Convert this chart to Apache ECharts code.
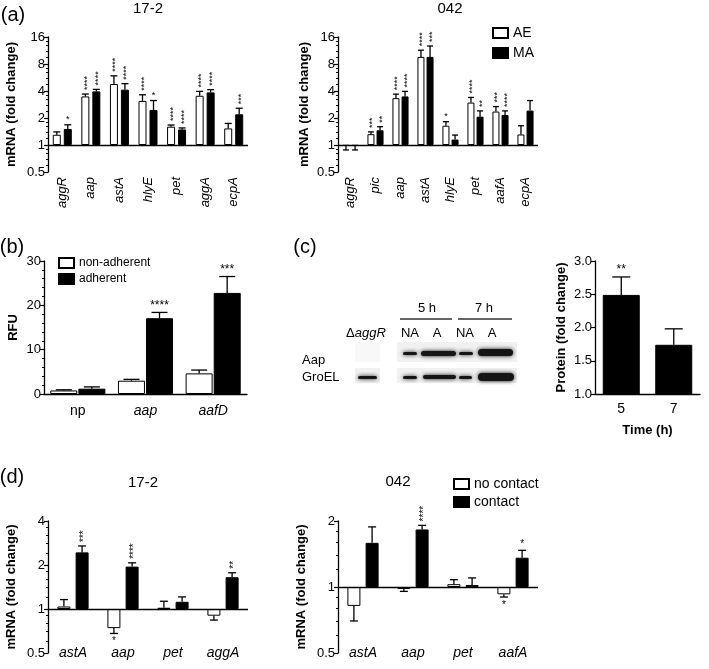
<!DOCTYPE html>
<html>
<head>
<meta charset="utf-8">
<script src="https://cdn.jsdelivr.net/npm/echarts@6/dist/echarts.min.js"></script>
<style>
  html, body { margin: 0; padding: 0; background: #fff; }
  #chart { width: 709px; height: 669px; }
</style>
</head>
<body>
<div id="chart"></div>
<script>
// (a) 17-2, AE vs MA
const genesA1 = ['aggR', 'aap', 'astA', 'hlyE', 'pet', 'aggA', 'ecpA'];
const a1AE = [1.30, 3.48, 4.78, 3.10, 1.60, 3.54, 1.53];
const a1AEErr = [1.40, 3.70, 5.90, 3.63, 1.67, 3.96, 1.74];
const a1AESig = ['', '****', '****', '****', '****', '****', ''];
const a1MA = [1.51, 3.96, 4.14, 2.46, 1.49, 3.86, 2.20];
const a1MAErr = [1.68, 4.17, 4.83, 3.13, 1.55, 4.14, 2.57];
const a1MASig = ['*', '****', '****', '*', '****', '****', '***'];

// (a) 042, AE vs MA
const genesA2 = ['aggR', 'pic', 'aap', 'astA', 'hlyE', 'pet', 'aafA', 'ecpA'];
const a2AE = [0.98, 1.32, 3.33, 9.6, 1.64, 2.97, 2.36, 1.31];
const a2AEErr = [0.88, 1.40, 3.69, 11.4, 1.82, 3.39, 2.68, 1.64];
const a2AESig = ['', '***', '****', '****', '*', '****', '***', ''];
const a2MA = [0.98, 1.46, 3.48, 9.6, 1.15, 2.07, 2.16, 2.42];
const a2MAErr = [0.88, 1.60, 3.96, 12.7, 1.29, 2.40, 2.40, 3.13];
const a2MASig = ['', '**', '****', '***', '', '**', '****', ''];

// (b) RFU
const reporters = ['np', 'aap', 'aafD'];
const nonAdh = [0.8, 3.0, 4.65];
const nonAdhErr = [0.95, 3.3, 5.4];
const nonAdhSig = ['', '', ''];
const adh = [1.2, 17.1, 22.8];
const adhErr = [1.6, 18.4, 26.5];
const adhSig = ['', '****', '***'];

// (c) protein fold change
const times = ['5', '7'];
const protein = [2.49, 1.74];
const proteinErr = [2.76, 1.98];
const proteinSig = ['**', ''];

// (d) 17-2, no contact vs contact
const genesD1 = ['astA', 'aap', 'pet', 'aggA'];
const d1No = [1.04, 0.74, 1.02, 0.90];
const d1NoErr = [1.16, 0.68, 1.13, 0.84];
const d1NoSig = ['', '*', '', ''];
const d1Yes = [2.44, 1.95, 1.12, 1.65];
const d1YesErr = [2.70, 2.07, 1.21, 1.77];
const d1YesSig = ['***', '****', '', '**'];

// (d) 042
const genesD2 = ['astA', 'aap', 'pet', 'aafA'];
const d2No = [0.82, 0.98, 1.03, 0.926];
const d2NoErr = [0.70, 0.955, 1.08, 0.90];
const d2NoSig = ['', '', '', '*'];
const d2Yes = [1.59, 1.83, 1.02, 1.36];
const d2YesErr = [1.88, 1.91, 1.10, 1.47];
const d2YesSig = ['', '****', '', '*'];

const FONT = "'Liberation Sans', Arial, sans-serif";
const chart = echarts.init(document.getElementById('chart'));

function barS(name, idx, data, color, width, gap, ref) {
  const s = {
    name: name, type: 'bar', xAxisIndex: idx, yAxisIndex: idx, data: data,
    barWidth: width, barGap: gap, silent: true,
    itemStyle: { color: color, borderColor: '#000', borderWidth: 1 }
  };
  if (ref) {
    s.markLine = {
      silent: true, symbol: 'none', label: { show: false },
      lineStyle: { color: '#000', width: 1.3, type: 'solid' },
      data: [{ yAxis: 1 }]
    };
  }
  return s;
}

function errS(idx, vals, ends, sigs, offset, cap, starSize, rotate) {
  return {
    type: 'custom', xAxisIndex: idx, yAxisIndex: idx, silent: true, z: 4,
    data: vals.map((v, i) => [i, v, ends[i]]),
    renderItem: function (params, api) {
      const i = api.value(0);
      const p = api.coord([i, api.value(1)]);
      const e = api.coord([i, api.value(2)]);
      const x = p[0] + offset;
      const up = e[1] < p[1];
      const ls = { stroke: '#000', lineWidth: 1.3 };
      const kids = [
        { type: 'line', shape: { x1: x, y1: p[1], x2: x, y2: e[1] }, style: ls },
        { type: 'line', shape: { x1: x - cap / 2, y1: e[1], x2: x + cap / 2, y2: e[1] }, style: ls }
      ];
      const s = sigs[params.dataIndex];
      if (s) {
        const st = { text: s, fill: '#000', font: starSize + 'px ' + FONT };
        if (up && rotate && s.length > 1) {
          kids.push({ type: 'text', x: x + 2, y: e[1] - 4, rotation: Math.PI / 2,
            style: Object.assign(st, { align: 'left', verticalAlign: 'middle' }) });
        } else if (up) {
          kids.push({ type: 'text', x: x, y: e[1] - 1,
            style: Object.assign(st, { align: 'center', verticalAlign: 'bottom' }) });
        } else {
          kids.push({ type: 'text', x: x, y: e[1] + 3,
            style: Object.assign(st, { align: 'center', verticalAlign: 'top' }) });
        }
      }
      return { type: 'group', children: kids };
    }
  };
}

function yAx(idx, type, min, max, name, gap, extra) {
  const a = {
    type: type, gridIndex: idx, min: min, max: max,
    name: name, nameLocation: 'middle', nameGap: gap,
    nameTextStyle: { fontWeight: 'bold', fontSize: 13, color: '#000', fontFamily: FONT },
    axisLine: { show: true, lineStyle: { color: '#000', width: 1.3 } },
    axisTick: { show: true, length: 4, lineStyle: { color: '#000', width: 1.2 } },
    minorTick: { show: true, splitNumber: 5, length: 2, lineStyle: { color: '#000' } },
    splitLine: { show: false },
    axisLabel: { color: '#000', fontSize: 13, margin: 3, fontFamily: FONT }
  };
  if (type === 'log') a.logBase = 2;
  return Object.assign(a, extra || {});
}

function xAx(idx, data, label, line) {
  return {
    type: 'category', gridIndex: idx, data: data,
    axisLine: { show: !!line, onZero: false, lineStyle: { color: '#000', width: 1.3 } },
    axisTick: { show: false },
    axisLabel: Object.assign({ color: '#000', fontSize: 13, interval: 0, fontFamily: FONT }, label)
  };
}

const italicRot = { rotate: 90, fontStyle: 'italic', fontSize: 13, margin: 5 };
const italicMid = { fontStyle: 'italic', fontSize: 14, verticalAlign: 'middle', margin: 0 };

// titles and panel letters
const texts = [
  ['(a)', 13, 15, 20], ['17-2', 148, 9, 15], ['042', 450, 9, 15],
  ['(b)', 12, 247, 20], ['(c)', 305, 247, 20],
  ['(d)', 12, 477, 20], ['17-2', 143, 483, 15], ['042', 398, 482, 15]
];
const graphics = texts.map(t => ({
  type: 'text', x: t[1], y: t[2],
  style: { text: t[0], align: 'center', verticalAlign: 'middle', fill: '#000', font: t[3] + 'px ' + FONT }
}));

// western blot illustration for panel (c)
const blotBg = [[397, 342, 120, 20], [397, 368, 120, 15], [355, 342, 25, 20], [355, 368, 25, 15]];
blotBg.forEach((r, k) => graphics.push({ type: 'rect', shape: { x: r[0], y: r[1], width: r[2], height: r[3] },
  style: { fill: k === 2 ? '#f8f8f8' : '#f1f1f1' }, silent: true }));
const bands = [
  [403, 352, 14, 3], [421, 351, 35, 5], [459, 352, 14, 3], [478, 349, 35, 7],
  [358, 376, 19, 3], [403, 376, 14, 3], [423, 375, 33, 4], [459, 376, 13, 3], [478, 373, 36, 8]
];
bands.forEach(b => graphics.push({ type: 'rect', shape: { x: b[0], y: b[1], width: b[2], height: b[3], r: b[3] / 2 },
  style: { fill: '#151515', shadowBlur: 4, shadowColor: 'rgba(0,0,0,0.9)' }, silent: true }));
graphics.push(
  { type: 'text', x: 366, y: 333, style: { text: '{n|Δ}{i|aggR}', align: 'center', verticalAlign: 'middle',
      rich: { n: { fontSize: 13, fontFamily: FONT }, i: { fontSize: 13, fontStyle: 'italic', fontFamily: FONT } } } },
  { type: 'text', x: 302, y: 360, style: { text: 'Aap', verticalAlign: 'middle', fill: '#000', font: '13px ' + FONT } },
  { type: 'text', x: 302, y: 377, style: { text: 'GroEL', verticalAlign: 'middle', fill: '#000', font: '13px ' + FONT } },
  { type: 'text', x: 427, y: 308, style: { text: '5 h', align: 'center', verticalAlign: 'middle', fill: '#000', font: '13px ' + FONT } },
  { type: 'text', x: 484, y: 308, style: { text: '7 h', align: 'center', verticalAlign: 'middle', fill: '#000', font: '13px ' + FONT } },
  { type: 'line', shape: { x1: 400, y1: 319, x2: 452, y2: 319 }, style: { stroke: '#333', lineWidth: 1.5 } },
  { type: 'line', shape: { x1: 458, y1: 319, x2: 512, y2: 319 }, style: { stroke: '#333', lineWidth: 1.5 } }
);
[['NA', 410], ['A', 437], ['NA', 465], ['A', 492]].forEach(l => graphics.push({
  type: 'text', x: l[1], y: 333,
  style: { text: l[0], align: 'center', verticalAlign: 'middle', fill: '#000', font: '13px ' + FONT }
}));

const rfuLabel = {
  formatter: v => v === 'np' ? '{n|' + v + '}' : '{i|' + v + '}',
  rich: { n: { fontSize: 14, fontFamily: FONT }, i: { fontSize: 14, fontStyle: 'italic', fontFamily: FONT } },
  margin: 10
};

const legendBase = { orient: 'vertical', icon: 'rect', itemWidth: 15, itemHeight: 10, padding: 0, selectedMode: false };

const option = {
  animation: false,
  backgroundColor: '#fff',
  textStyle: { fontFamily: FONT },
  grid: [
    { left: 48, top: 37, width: 200, height: 135 },
    { left: 338, top: 37, width: 200, height: 135 },
    { left: 44, top: 261, width: 203, height: 133 },
    { left: 595, top: 261, width: 105, height: 133 },
    { left: 48, top: 521, width: 200, height: 132 },
    { left: 338, top: 521, width: 200, height: 132 }
  ],
  legend: [
    Object.assign({ data: ['AE', 'MA'], left: 492, top: 26, itemGap: 6,
      textStyle: { fontSize: 14, color: '#000', fontFamily: FONT } }, legendBase),
    Object.assign({ data: ['non-adherent', 'adherent'], left: 58, top: 257, itemGap: 4,
      textStyle: { fontSize: 12, color: '#000', fontFamily: FONT } }, legendBase),
    Object.assign({ data: ['no contact', 'contact'], left: 453, top: 477, itemGap: 4,
      textStyle: { fontSize: 14, color: '#000', fontFamily: FONT } }, legendBase)
  ],
  xAxis: [
    xAx(0, genesA1, italicRot, false),
    xAx(1, genesA2, italicRot, false),
    xAx(2, reporters, rfuLabel, true),
    Object.assign(xAx(3, times, { fontSize: 14, margin: 8 }, true),
      { name: 'Time (h)', nameLocation: 'middle', nameGap: 30,
        nameTextStyle: { fontWeight: 'bold', fontSize: 13, color: '#000', fontFamily: FONT } }),
    xAx(4, genesD1, italicMid, false),
    xAx(5, genesD2, italicMid, false)
  ],
  yAxis: [
    yAx(0, 'log', 0.5, 16, 'mRNA (fold change)', 30),
    yAx(1, 'log', 0.5, 16, 'mRNA (fold change)', 27),
    yAx(2, 'value', 0, 30, 'RFU', 24, { interval: 10 }),
    yAx(3, 'value', 1, 3, 'Protein (fold change)', 27,
      { interval: 0.5, minorTick: { show: false }, axisLabel: { color: '#000', fontSize: 13, margin: 3, formatter: v => v.toFixed(1) } }),
    yAx(4, 'log', 0.5, 4, 'mRNA (fold change)', 30),
    yAx(5, 'log', 0.5, 2, 'mRNA (fold change)', 30)
  ],
  graphic: graphics,
  series: [
    barS('AE', 0, a1AE, '#fff', 8, '37.5%', true),
    barS('MA', 0, a1MA, '#000', 8, '37.5%'),
    errS(0, a1AE, a1AEErr, a1AESig, -5.5, 7, 9, true),
    errS(0, a1MA, a1MAErr, a1MASig, 5.5, 7, 9, true),

    barS('AE', 1, a2AE, '#fff', 7, '30%', true),
    barS('MA', 1, a2MA, '#000', 7, '30%'),
    errS(1, a2AE, a2AEErr, a2AESig, -4.55, 6, 9, true),
    errS(1, a2MA, a2MAErr, a2MASig, 4.55, 6, 9, true),

    barS('non-adherent', 2, nonAdh, '#fff', 27, '4%'),
    barS('adherent', 2, adh, '#000', 27, '4%'),
    errS(2, nonAdh, nonAdhErr, nonAdhSig, -14, 16, 12, false),
    errS(2, adh, adhErr, adhSig, 14, 16, 12, false),

    barS('protein', 3, protein, '#000', 37, '0%'),
    errS(3, protein, proteinErr, proteinSig, 0, 18, 12, false),

    barS('no contact', 4, d1No, '#fff', 13, '40%', true),
    barS('contact', 4, d1Yes, '#000', 13, '40%'),
    errS(4, d1No, d1NoErr, d1NoSig, -9.1, 8, 10, true),
    errS(4, d1Yes, d1YesErr, d1YesSig, 9.1, 8, 10, true),

    barS('no contact', 5, d2No, '#fff', 13, '40%', true),
    barS('contact', 5, d2Yes, '#000', 13, '40%'),
    errS(5, d2No, d2NoErr, d2NoSig, -9.1, 8, 10, true),
    errS(5, d2Yes, d2YesErr, d2YesSig, 9.1, 8, 10, true)
  ]
};
chart.setOption(option);
</script>
</body>
</html>
